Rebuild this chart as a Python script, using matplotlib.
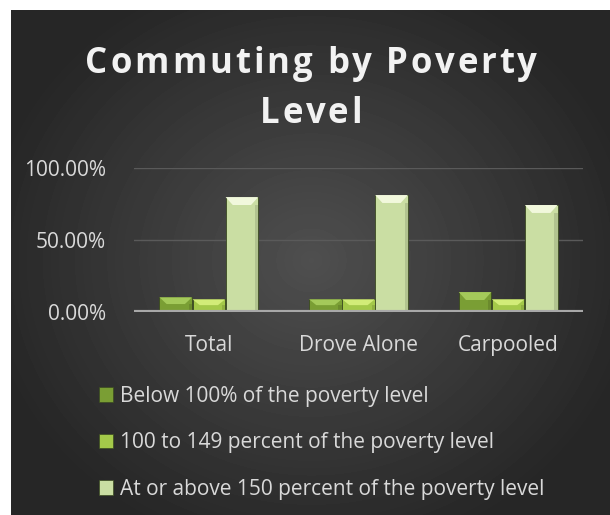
import numpy as np
import matplotlib
matplotlib.use("Agg")
import matplotlib.pyplot as plt
from matplotlib.patches import Rectangle, Polygon
from matplotlib.font_manager import FontProperties

categories = ["Total", "Drove Alone", "Carpooled"]
series_names = ["Below 100% of the poverty level",
                "100 to 149 percent of the poverty level",
                "At or above 150 percent of the poverty level"]
below_100 = [10.4, 9.0, 14.0]
pct_100_149 = [9.0, 9.0, 9.0]
above_150 = [79.7, 81.1, 74.2]
y_ticks = [0, 50, 100]
y_tick_labels = ["0.00%", "50.00%", "100.00%"]
title_lines = ["Commuting by Poverty", "Level"]

colors = ["#7a9e34", "#a4c94a", "#cadea3"]
top_colors = ["#a4c95a", "#d2ec78", "#f1f8dc"]
text_color = "#d9d9d9"

W, H = 610, 515
fig = plt.figure(figsize=(W / 100, H / 100), dpi=100, facecolor="white")

# dark radial gradient background
bg = fig.add_axes([11 / W, 0, 1 - 11 / W, 1 - 10 / H])
bg.set_axis_off()
yy, xx = np.mgrid[0:505, 0:599]
cx, cy = 300, 250
r = np.sqrt(((xx - cx) / 330) ** 2 + ((yy - cy) / 300) ** 2)
val = 0.31 - 0.16 * np.clip(r, 0, 1)
bg.imshow(val, cmap="gray", vmin=0, vmax=1, aspect="auto",
          extent=[0, 1, 0, 1], interpolation="bilinear")
bg.set_xlim(0, 1)
bg.set_ylim(0, 1)

ax = fig.add_axes([134 / W, (H - 312.3) / H, 449 / W, 144.6 / H])
ax.set_facecolor("none")
x = np.arange(len(categories))
bw = 0.218
step = 0.221
data = [below_100, pct_100_149, above_150]
for i, vals in enumerate(data):
    bars = ax.bar(x + (i - 1) * step, vals, width=bw, color=colors[i],
                  edgecolor="#3a4a20", linewidth=0.6, zorder=3)
    for b in bars:
        bx, bwid, bh = b.get_x(), b.get_width(), b.get_height()
        bev = min(bh * 0.45, 5.5)
        poly = Polygon([(bx, bh), (bx + bwid, bh),
                        (bx + bwid * 0.78, bh - bev), (bx + bwid * 0.22, bh - bev)],
                       closed=True, facecolor=top_colors[i], edgecolor="none", zorder=4)
        ax.add_patch(poly)
        ax.add_patch(Rectangle((bx + bwid * 0.9, 0), bwid * 0.1, bh - bev,
                               facecolor="black", alpha=0.12, edgecolor="none", zorder=4))

ax.set_xlim(-0.5, 2.5)
ax.set_ylim(0, 100)
ax.set_yticks(y_ticks)
ax.set_yticklabels(y_tick_labels)
ax.set_xticks(x)
ax.set_xticklabels(categories)
for s in ax.spines.values():
    s.set_visible(False)
ax.tick_params(length=0, colors=text_color, labelsize=15)
ax.tick_params(axis="x", pad=16)
ax.tick_params(axis="y", pad=20)
for lab in ax.get_xticklabels() + ax.get_yticklabels():
    lab.set_family("Open Sans")
    lab.set_color(text_color)
for yv in y_ticks[1:]:
    ax.axhline(yv, color="#5a5a5a", lw=1.0, zorder=1)
ax.axhline(0, color="#a8a8a8", lw=3, zorder=5)

# letter-spaced title
renderer = fig.canvas.get_renderer()
fp = FontProperties(family="Open Sans", weight="bold", size=25)


def text_w(s):
    t = fig.text(0, 0, s, fontproperties=fp)
    w = t.get_window_extent(renderer).width
    t.remove()
    return w


def spaced_title(s, target_w, center_x, baseline_y):
    bar_w = text_w("|")
    pos = [text_w(s[:i] + "|") - bar_w if i > 0 else 0 for i in range(len(s))]
    natural = text_w(s)
    extra = (target_w - natural) / max(len(s) - 1, 1)
    x0 = center_x - target_w / 2
    for i, ch in enumerate(s):
        if ch == " ":
            continue
        fig.text((x0 + pos[i] + i * extra) / W, baseline_y / H, ch,
                 fontproperties=fp, color="#f2f2f2", va="baseline", ha="left")
    return extra


extra = spaced_title(title_lines[0], 452, 311, H - 73)
lw = text_w(title_lines[1]) + extra * (len(title_lines[1]) - 1)
spaced_title(title_lines[1], lw, 311, H - 123)

handles = [Rectangle((0, 0), 1, 1, facecolor=c, edgecolor="#3a4a20", lw=0.5) for c in colors]
leg = fig.legend(handles, series_names, loc="upper left",
                 bbox_to_anchor=(80 / W, (H - 367) / H), frameon=False,
                 handlelength=0.7, handleheight=0.7, handletextpad=0.3,
                 labelspacing=1.22, prop={"family": "Open Sans", "size": 15},
                 labelcolor=text_color)

fig.savefig("out.png", dpi=100, facecolor="white")
